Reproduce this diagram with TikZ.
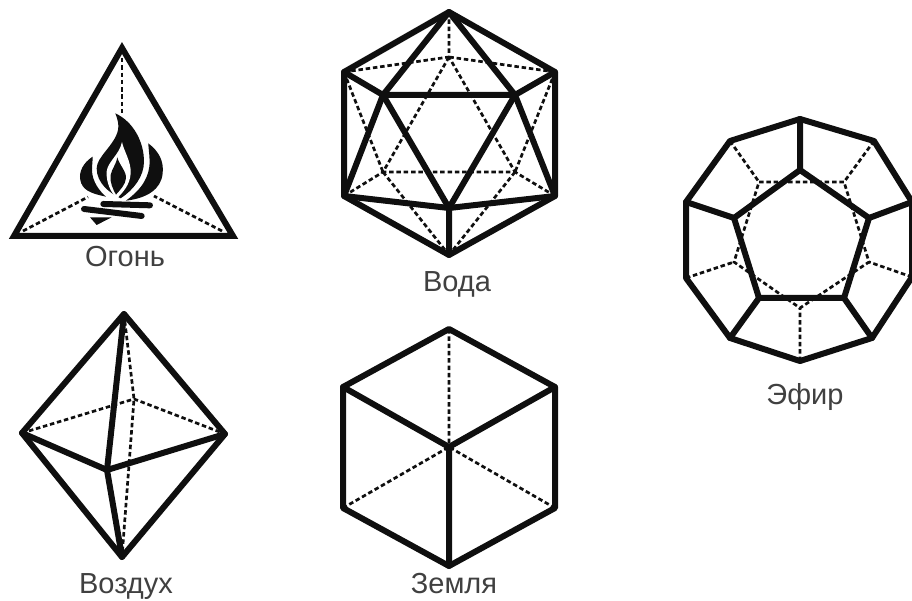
\documentclass[tikz,border=0pt]{standalone}
\usepackage{fontspec}
\setmainfont{Liberation Sans}
\definecolor{ink}{gray}{0.06}
\definecolor{labelgray}{gray}{0.25}
\tikzset{
  solidedge/.style={draw=ink,line width=6pt,line cap=round,line join=round},
  dashededge/.style={draw=ink,line width=2.7pt,dash pattern=on 4.5pt off 2.8pt},
  caption/.style={font=\fontsize{29}{33}\selectfont,text=labelgray,inner sep=0pt,anchor=base}
}
\begin{document}
\begin{tikzpicture}[x=1pt,y=-1pt]
\useasboundingbox (0,0) rectangle (912,601);
\clip (0,0) rectangle (912,601);
% --- Fire: tetrahedron
\coordinate (ta) at (122,48);
\coordinate (tl) at (14,236);
\coordinate (tr) at (233,236);
\coordinate (tai) at (122,58);
\coordinate (tat) at (122,113);
\coordinate (tli) at (23,231);
\coordinate (tlt) at (88,197);
\coordinate (tri) at (222,231);
\coordinate (trt) at (154,196);
\draw[dashededge] (tai) -- (tat);
\draw[dashededge] (tli) -- (tlt);
\draw[dashededge] (tri) -- (trt);
\draw[solidedge,line join=miter] (ta) -- (tl) -- (tr) -- cycle;
\begin{scope}[shift={(0,30)},x=0.3333pt,y=-0.3333pt]
 % main flame
 \fill[ink] (346,250) .. controls (400,275) and (432,335) .. (432,395)
   .. controls (432,440) and (400,480) .. (362,505)
   .. controls (330,490) and (290,460) .. (290,415)
   .. controls (290,380) and (345,345) .. (354,300)
   .. controls (358,285) and (352,265) .. (346,250) -- cycle;
 \fill[white] (366,336) .. controls (372,365) and (394,395) .. (392,430)
   .. controls (390,465) and (368,488) .. (350,506)
   .. controls (335,490) and (318,460) .. (320,425)
   .. controls (323,395) and (358,375) .. (366,336) -- cycle;
 \fill[ink] (352,382) .. controls (358,405) and (380,425) .. (378,445)
   .. controls (376,465) and (360,480) .. (348,494)
   .. controls (340,480) and (328,455) .. (332,435)
   .. controls (336,415) and (348,405) .. (352,382) -- cycle;
 % side flames
 \fill[ink] (445,340) .. controls (478,365) and (492,395) .. (488,430)
   .. controls (484,478) and (440,505) .. (378,512)
   .. controls (415,485) and (442,455) .. (448,410)
   .. controls (451,385) and (446,365) .. (445,340) -- cycle;
 \fill[ink] (278,380) .. controls (250,398) and (236,425) .. (241,450)
   .. controls (246,478) and (268,490) .. (318,500)
   .. controls (300,485) and (276,455) .. (276,420)
   .. controls (276,405) and (278,395) .. (278,380) -- cycle;
 % logs
 \draw[ink,line width=6pt,line cap=round] (252,537) -- (425,558);
 \draw[ink,line width=6pt,line cap=round] (310,522) -- (450,526);
 \fill[ink] (270,562) -- (335,562) -- (290,585) -- cycle;
\end{scope}
\node[caption] (fire) at (125,267) {Огонь};
% --- Water: icosahedron
\coordinate (it) at (449,12);
\coordinate (iur) at (555,72);
\coordinate (ilr) at (555,196);
\coordinate (ib) at (449,255);
\coordinate (ill) at (344,196);
\coordinate (iul) at (344,72);
\coordinate (ia) at (383,95);
\coordinate (ic) at (515,95);
\coordinate (if) at (449,208);
\coordinate (id) at (449,57);
\coordinate (ie) at (383,172);
\coordinate (ig) at (515,172);
\draw[dashededge] (id) -- (ie) -- (ig) -- cycle;
\draw[dashededge] (it) -- (id) (iul) -- (id) (iur) -- (id);
\draw[dashededge] (iul) -- (ie) (ill) -- (ie) (iur) -- (ig) (ilr) -- (ig);
\draw[dashededge] (ie) -- (ib) (ig) -- (ib);
\draw[solidedge] (it) -- (iur) -- (ilr) -- (ib) -- (ill) -- (iul) -- cycle;
\draw[solidedge] (ia) -- (ic) -- (if) -- cycle;
\draw[solidedge] (it) -- (ia) (it) -- (ic) (iul) -- (ia) (iur) -- (ic);
\draw[solidedge] (ill) -- (ia) (ilr) -- (ic) (ill) -- (if) (ilr) -- (if) (if) -- (ib);
\node[caption] (water) at (457,291) {Вода};
% --- Ether: dodecahedron
\coordinate (d1) at (800,119);
\coordinate (d2) at (874,141);
\coordinate (d3) at (912,202);
\coordinate (d4) at (912,277);
\coordinate (d5) at (872,338);
\coordinate (d6) at (800,361);
\coordinate (d7) at (730,338);
\coordinate (d8) at (686,278);
\coordinate (d9) at (686,202);
\coordinate (d10) at (730,141);
\coordinate (p1) at (800,170);
\coordinate (p2) at (869,218);
\coordinate (p3) at (844,298);
\coordinate (p4) at (759,298);
\coordinate (p5) at (734,218);
\coordinate (q1) at (759,182);
\coordinate (q2) at (844,182);
\coordinate (q3) at (869,262);
\coordinate (q4) at (800,308);
\coordinate (q5) at (734,262);
\draw[dashededge] (q1) -- (q2) -- (q3) -- (q4) -- (q5) -- cycle;
\draw[dashededge] (d10) -- (q1) (d2) -- (q2) (d4) -- (q3) (d6) -- (q4) (d8) -- (q5);
\draw[solidedge] (d1) -- (d2) -- (d3) -- (d4) -- (d5) -- (d6) -- (d7) -- (d8) -- (d9) -- (d10) -- cycle;
\draw[solidedge] (p1) -- (p2) -- (p3) -- (p4) -- (p5) -- cycle;
\draw[solidedge] (d1) -- (p1) (d3) -- (p2) (d5) -- (p3) (d7) -- (p4) (d9) -- (p5);
\node[caption] (ether) at (805,404) {Эфир};
% --- Air: octahedron
\coordinate (ot) at (124,314);
\coordinate (ol) at (22,433);
\coordinate (or) at (225,434);
\coordinate (ob) at (122,557);
\coordinate (of) at (107,470);
\coordinate (ok) at (134,399);
\draw[dashededge] (ol) -- (ok) -- (or);
\draw[dashededge] (ot) -- (ok) -- (ob);
\draw[solidedge] (ot) -- (or) -- (ob) -- (ol) -- cycle;
\draw[solidedge] (ol) -- (of) -- (or);
\draw[solidedge] (ot) -- (of) -- (ob);
\node[caption] (air) at (126,593) {Воздух};
% --- Earth: cube
\coordinate (ct) at (449,329);
\coordinate (cur) at (555,387);
\coordinate (clr) at (555,508);
\coordinate (cb) at (449,566);
\coordinate (cll) at (343,508);
\coordinate (cul) at (343,387);
\coordinate (cc) at (449,447);
\draw[dashededge] (ct) -- (cc) (cll) -- (cc) (clr) -- (cc);
\draw[solidedge] (ct) -- (cur) -- (clr) -- (cb) -- (cll) -- (cul) -- cycle;
\draw[solidedge] (cul) -- (cc) -- (cur) (cc) -- (cb);
\node[caption] (earth) at (454,593) {Земля};
\end{tikzpicture}
\end{document}
